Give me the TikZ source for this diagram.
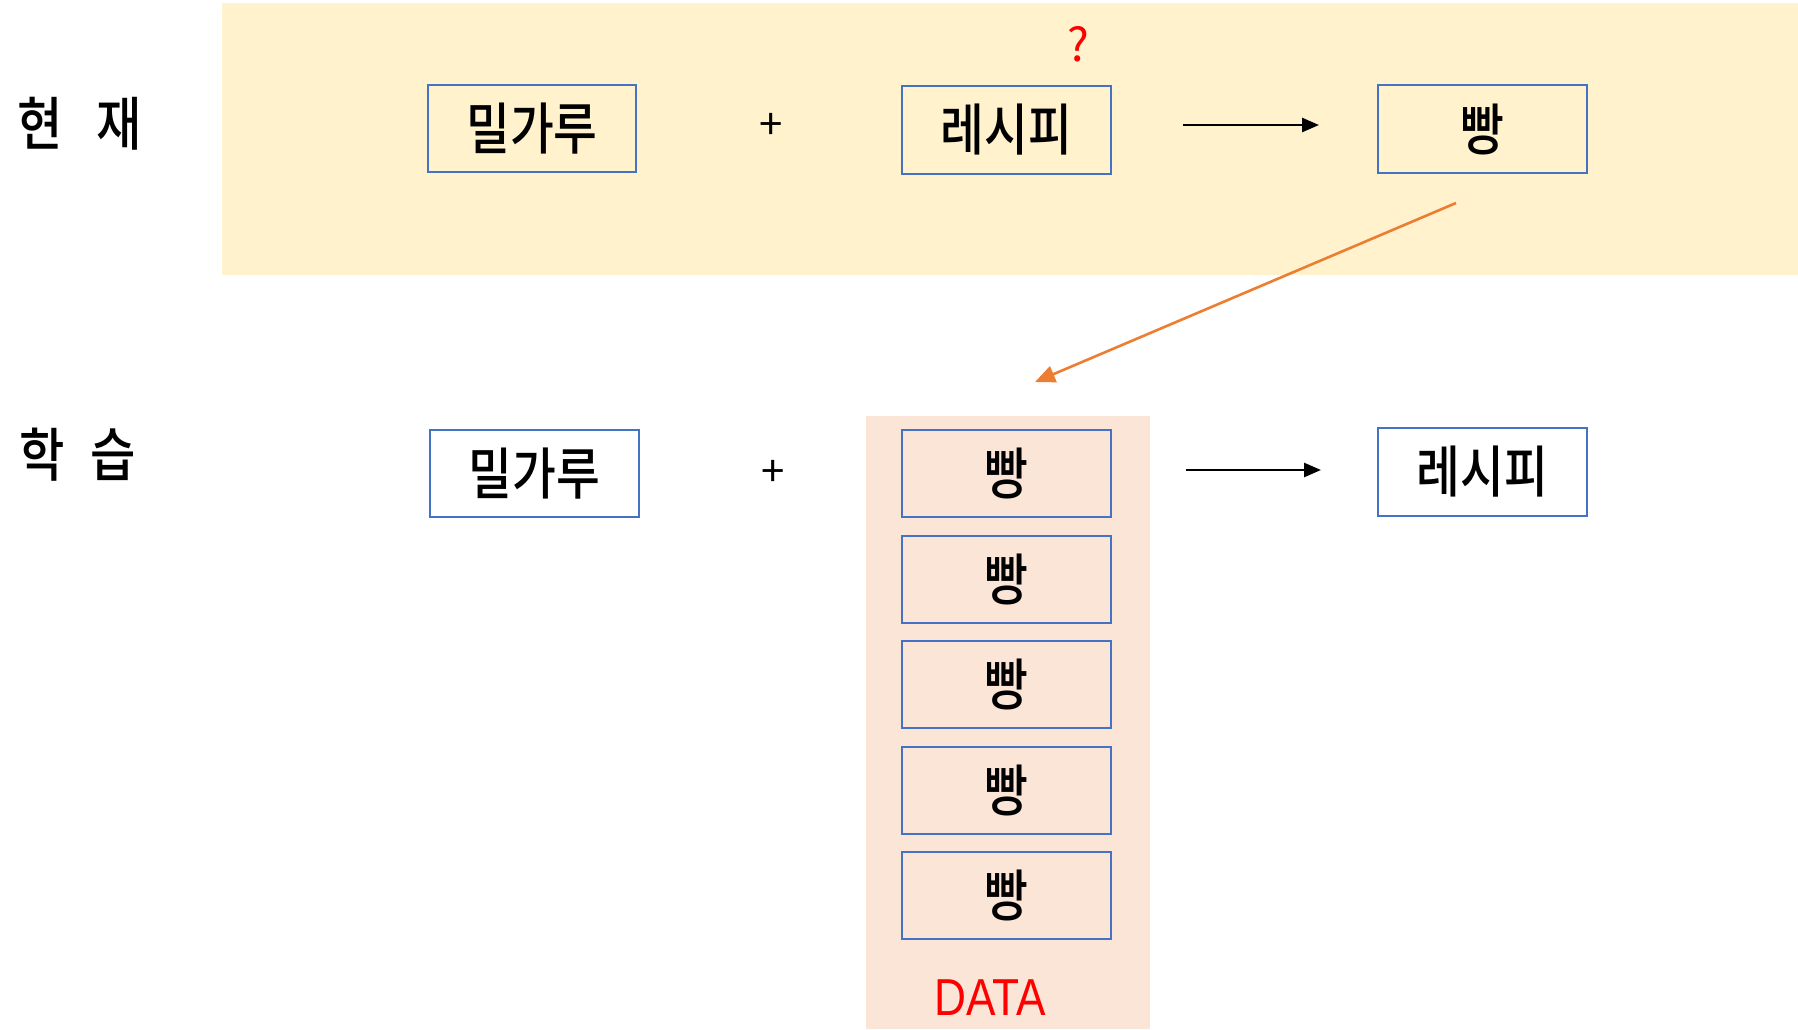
\documentclass[tikz,border=0pt]{standalone}
\usepackage{fontspec}
\usetikzlibrary{arrows.meta}
\setmainfont{Noto Sans CJK KR}
\newfontfamily\krbold[FakeStretch=0.85]{Noto Sans CJK KR Medium}
\newfontfamily\krthin{Noto Sans CJK KR}
\newfontfamily\latinsans[FakeStretch=0.85]{Liberation Sans}
\definecolor{bandyellow}{HTML}{FFF2CC}
\definecolor{databg}{HTML}{FBE5D6}
\definecolor{boxblue}{HTML}{4472C4}
\definecolor{flowarrow}{HTML}{ED7D31}
\tikzset{
  itembox/.style={draw=boxblue, line width=2pt, minimum width=208pt, minimum height=87pt,
    inner sep=0pt, font=\fontsize{56}{56}\krbold},
  rowlabel/.style={font=\fontsize{58}{58}\krbold, inner sep=0pt},
  plussign/.style={font=\fontsize{42}{42}\krthin, inner sep=0pt},
  flow/.style={line width=2.6pt, -{Triangle[length=17pt,width=14pt]}},
  feedback/.style={draw=flowarrow, line width=2.6pt, -{Triangle[length=20pt,width=17pt]}}
}
\begin{document}
\begin{tikzpicture}[x=1pt,y=-1pt]
  \useasboundingbox (0,0) rectangle (1798,1029);
  % background areas
  \fill[bandyellow] (222,3) rectangle (1798,275);
  \fill[databg] (866,416) rectangle (1150,1029);

  % current process
  \node[rowlabel] (lblnow) at (80,124) {현\hspace{34pt}재};
  \node[itembox] (flour1) at (532,128.5) {밀가루};
  \node[plussign] (plus1) at (771,126.5) {+};
  \node[itembox, minimum width=209pt, minimum height=88pt] (recipe1) at (1006.5,130) {레시피};
  \node[font=\fontsize{46}{46}\krthin, text=red, inner sep=0pt] (qmark) at (1078,44) {?};
  \node[itembox, minimum width=209pt, minimum height=88pt] (bread1) at (1482.5,129) {빵};
  \coordinate (a1s) at (1183,125);
  \coordinate (a1e) at (1319,125);
  \draw[flow] (a1s) -- (a1e);

  % learning process
  \node[rowlabel] (lbllearn) at (78,455) {학\hspace{26pt}습};
  \node[itembox, minimum width=209pt] (flour2) at (534.5,473.5) {밀가루};
  \node[plussign] (plus2) at (773,473) {+};
  \foreach \i/\y in {1/473.5, 2/579, 3/684.5, 4/790, 5/895.5}
    \node[itembox, minimum width=209pt] (data\i) at (1006.5,\y) {빵};
  \node[font=\fontsize{52}{52}\latinsans, text=red, inner sep=0pt] (datalbl) at (990,998) {DATA};
  \node[itembox, minimum width=209pt, minimum height=88pt] (recipe2) at (1482.5,472) {레시피};
  \coordinate (a2s) at (1186,470);
  \coordinate (a2e) at (1321,470);
  \draw[flow] (a2s) -- (a2e);

  % result of the current process feeds the learning data
  \coordinate (fbs) at (1456,203);
  \coordinate (fbe) at (1035,382);
  \draw[feedback] (fbs) -- (fbe);
\end{tikzpicture}
\end{document}
